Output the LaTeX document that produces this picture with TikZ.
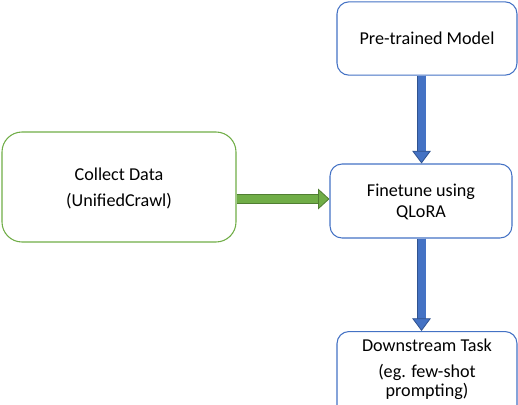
\documentclass[tikz,border=0pt]{standalone}
\usepackage{fontspec}
\setmainfont{Carlito}
\usepackage{tikz}
\usetikzlibrary{arrows.meta, positioning}

\definecolor{boxblue}{HTML}{4472C4}
\definecolor{edgeblue}{HTML}{2F528F}
\definecolor{boxgreen}{HTML}{70AD47}
\definecolor{edgegreen}{HTML}{507E32}

\begin{document}
\begin{tikzpicture}[x=0.75pt, y=-0.75pt,
    every node/.style={rounded corners=9pt, align=center, font=\fontsize{13.6}{15.75}\selectfont, line width=0.8pt},
    bluebox/.style={draw=boxblue, minimum width=135pt, minimum height=55pt},
    greenbox/.style={draw=boxgreen, rounded corners=15pt, minimum width=175.5pt, minimum height=82.5pt},
    bluearrow/.style={draw=edgeblue, double=boxblue, double distance=6pt, line width=0.6pt,
        -{Triangle[width=14pt, length=9.5pt, line width=0.6pt, fill=boxblue]}},
    greenarrow/.style={draw=edgegreen, double=boxgreen, double distance=6.5pt, line width=0.6pt,
        -{Triangle[width=15.5pt, length=8.5pt, line width=0.6pt, fill=boxgreen]}}]
    \clip (0,0) rectangle (518,404);
    \useasboundingbox (0,0) rectangle (518,404);
    % Nodes
    \node[bluebox] (pretrained) at (427,38.5) {Pre-trained Model};
    \node[bluebox, minimum width=136.5pt, minimum height=55.5pt, text depth=-2.5pt] (finetune) at (421,201) {Finetune using\\QLoRA};
    \node[greenbox, text depth=-1.5pt] (collect) at (119,187) {Collect Data\\[4pt](UnifiedCrawl)};
    \node[bluebox, anchor=north, inner ysep=5.5pt, text depth=48pt] (downstream) at (427,331)
        {Downstream Task\\[3.75pt](eg. few-shot\\[-1.5pt]prompting)};

    % Arrows
    \draw[bluearrow] ([xshift=-4.1pt]pretrained.south) -- ([xshift=0.4pt]finetune.north);
    \draw[bluearrow] ([xshift=0.4pt]finetune.south) -- ([xshift=-4.1pt]downstream.north);
    \draw[greenarrow] ([yshift=-9pt]collect.east) -- ([yshift=1.5pt]finetune.west);
\end{tikzpicture}
\end{document}
